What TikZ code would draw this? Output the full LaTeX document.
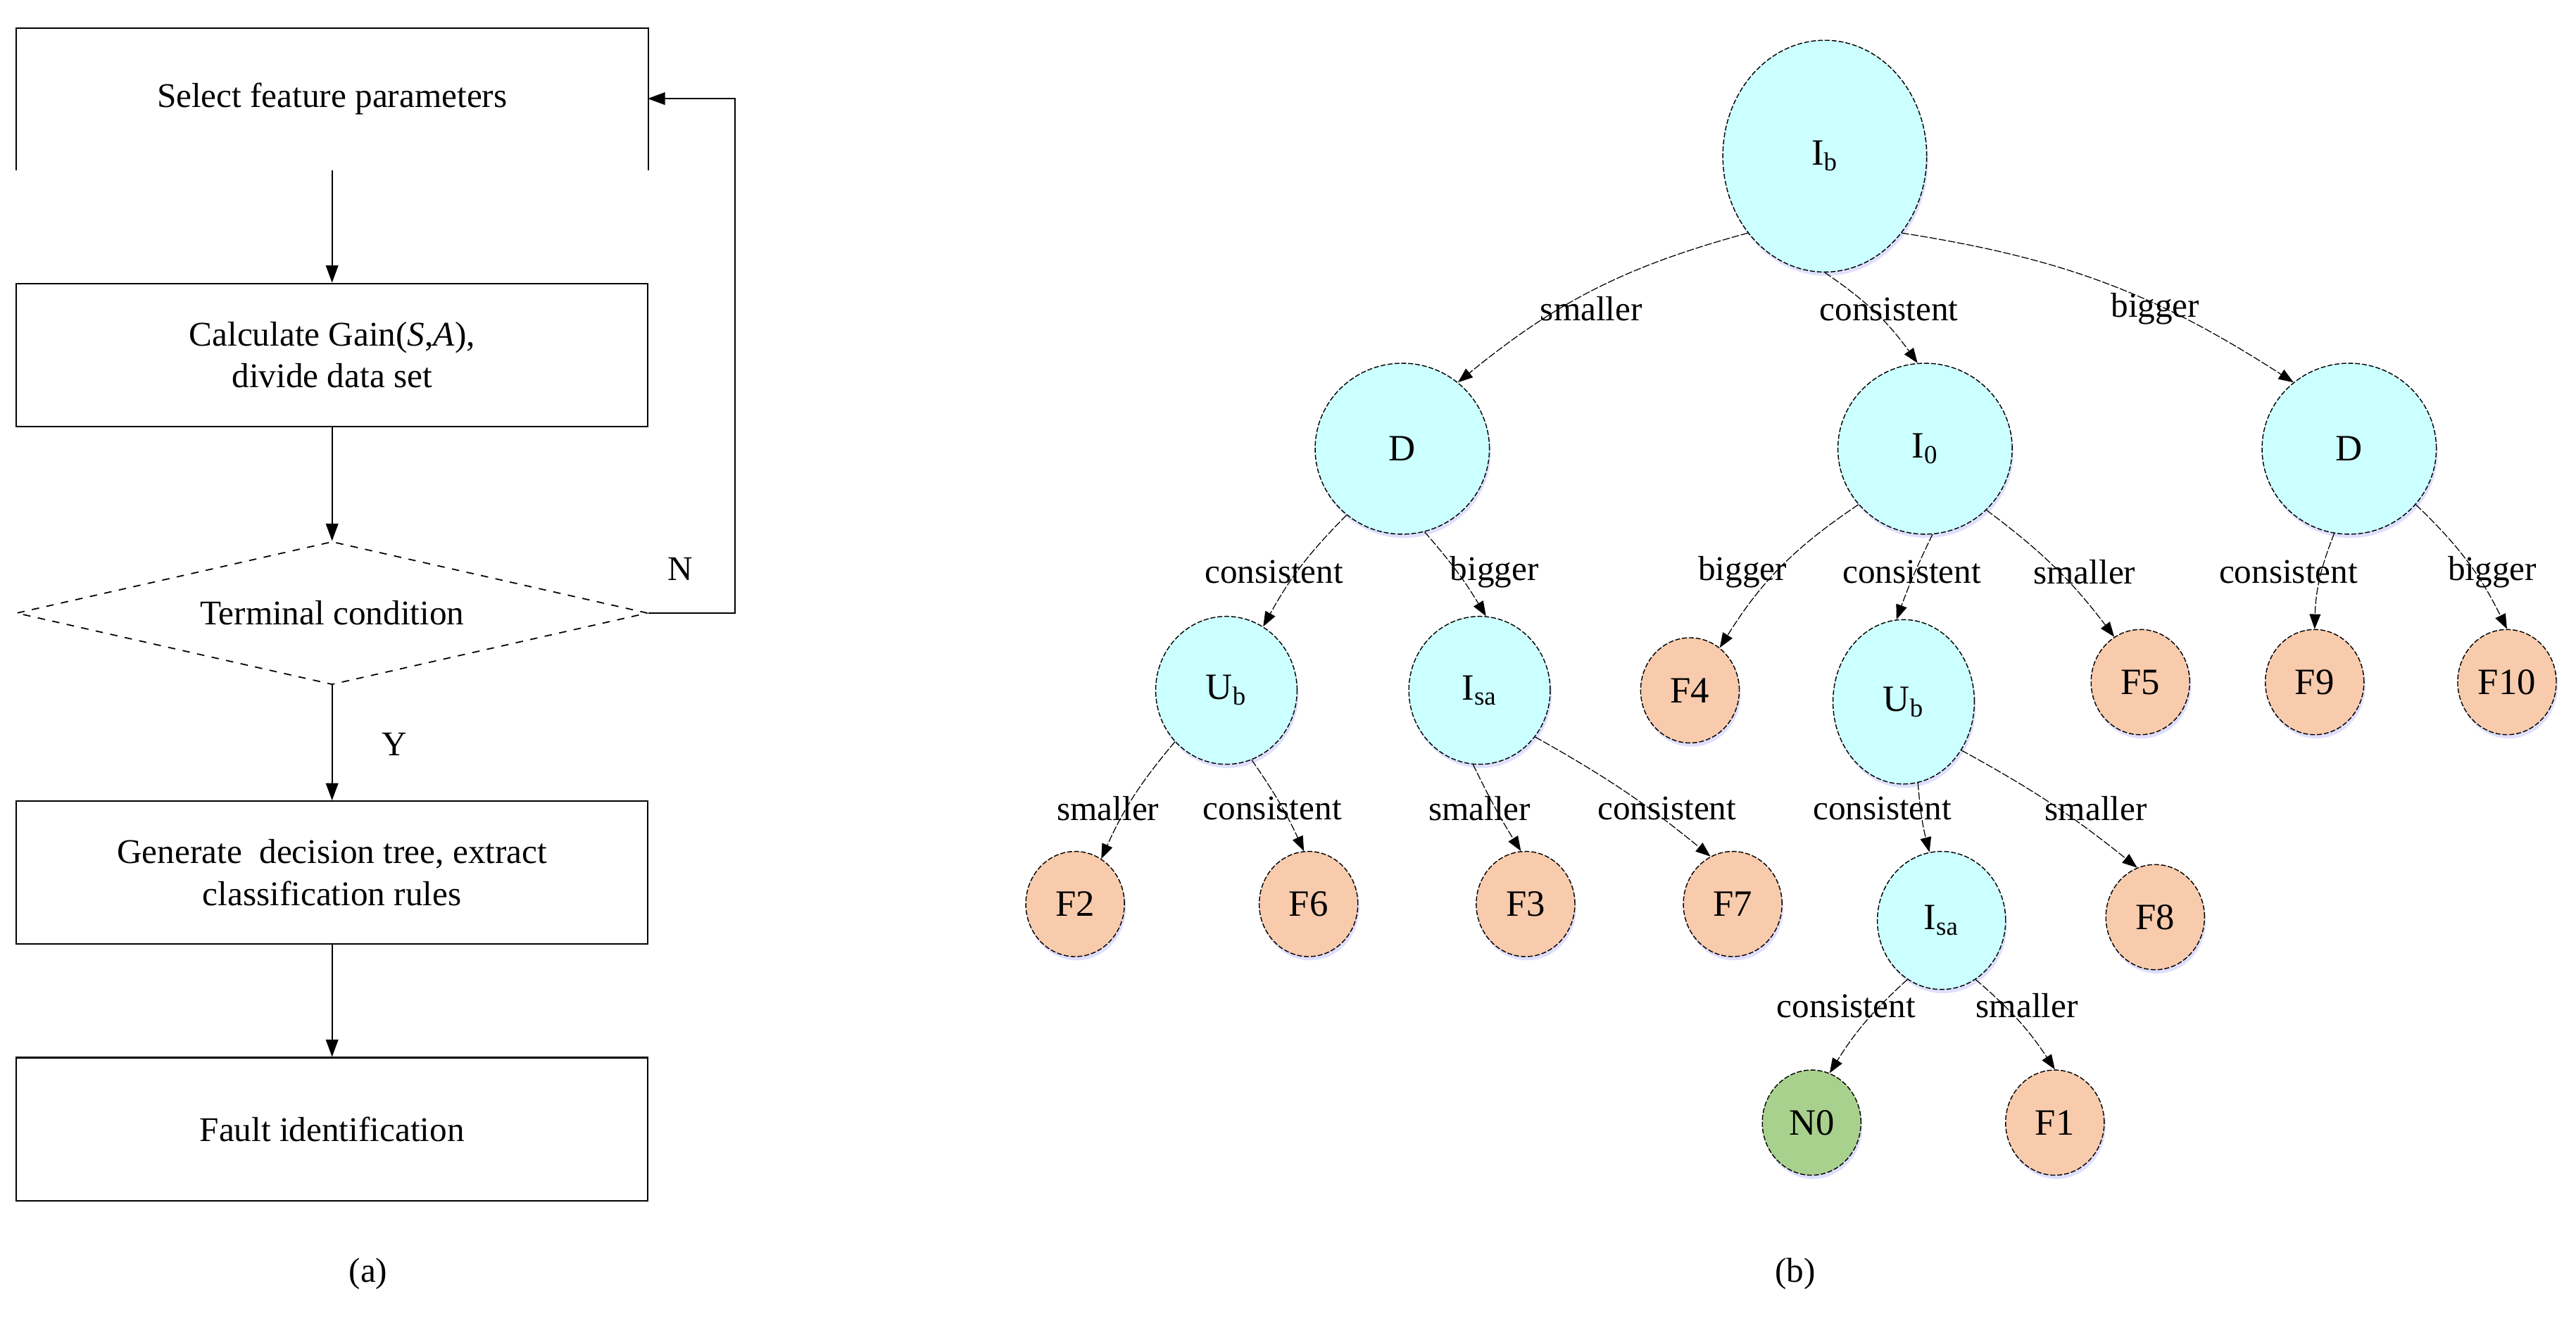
\documentclass[tikz,border=0pt]{standalone}
\usepackage{fontspec}
\setmainfont{Liberation Serif}
\usetikzlibrary{shapes.geometric,arrows.meta,shadows}
\definecolor{cyanf}{HTML}{CCFFFF}
\definecolor{salm}{HTML}{F8CBAD}
\definecolor{grn}{HTML}{A9D18E}
\begin{document}
\begin{tikzpicture}[x=0.02335cm,y=-0.02335cm,
  txt/.style={font=\fontsize{14}{17}\selectfont,align=center},
  box/.style={txt,draw,line width=0.6pt,minimum width=384*0.02335cm,minimum height=87*0.02335cm},
  arr/.style={-{Triangle[length=7pt,width=5pt]},line width=0.6pt},
  tarr/.style={-{Triangle[length=6pt,width=4.5pt]},line width=0.35pt,dash pattern=on 3pt off 0.8pt},
  nd/.style={ellipse,draw,line width=0.4pt,dash pattern=on 2pt off 0.8pt,inner sep=0pt,font=\fontsize{15}{17}\selectfont,
     drop shadow={shadow xshift=0.6pt,shadow yshift=-1.5pt,fill=blue!25,opacity=0.5}},
  big/.style={nd,fill=cyanf,minimum width=124*0.02335cm,minimum height=141*0.02335cm},
  mid/.style={nd,fill=cyanf,minimum width=106*0.02335cm,minimum height=104*0.02335cm},
  sm/.style={nd,fill=cyanf,minimum width=86*0.02335cm,minimum height=90*0.02335cm},
  lf/.style={nd,fill=salm,minimum width=60*0.02335cm,minimum height=64*0.02335cm},
  lab/.style={txt,inner sep=1pt}]
\useasboundingbox (0,0) rectangle (1567,801);
% flowchart
\node[txt,minimum width=384*0.02335cm,minimum height=86*0.02335cm,anchor=north] (b1) at (202,17) {Select feature parameters};
\draw[line width=0.6pt] (b1.south west) -- (b1.north west) -- (b1.north east) -- (b1.south east);
\node[box,anchor=north] (b2) at (202,172) {Calculate Gain(\textit{S},\textit{A}),\\divide data set};
\node[txt,diamond,draw,dashed,line width=0.5pt,aspect=4.4,minimum width=384*0.02335cm,minimum height=87*0.02335cm,inner sep=0pt] (dm) at (202,373) {Terminal condition};
\node[box,anchor=north] (b3) at (202,487) {Generate\ \ decision tree, extract\\classification rules};
\node[box,anchor=north] (b4) at (202,643) {Fault identification};
\coordinate (c1) at (447,373);
\coordinate (c2) at (447,60);
\coordinate (c3) at (394,60);
\draw[arr] (b1.south) -- (b2.north);
\draw[arr] (b2.south) -- (dm.north);
\draw[arr] (dm.south) -- (b3.north);
\draw[arr] (b3.south) -- (b4.north);
\draw[arr] (dm.east) -- (c1) -- (c2) -- (c3);
\node[txt] (N) at (414,346) {N};
\node[txt] (Y) at (240,453) {Y};
\node[txt] (ca) at (224,775) {(a)};
\node[txt] (cb) at (1092,775) {(b)};
% tree
\node[big] (Ib) at (1110,95) {I\textsubscript{b}};
\node[mid] (D1) at (853,273) {D};
\node[mid] (I0) at (1171,273) {I\textsubscript{0}};
\node[mid] (D2) at (1429,273) {D};
\node[sm] (U1) at (746,420) {U\textsubscript{b}};
\node[sm] (S1) at (900,420) {I\textsubscript{sa}};
\node[lf] (F4) at (1028,420) {F4};
\node[sm,minimum height=100*0.02335cm] (U2) at (1158,427) {U\textsubscript{b}};
\node[lf] (F5) at (1302,415) {F5};
\node[lf] (F9) at (1408,415) {F9};
\node[lf] (F10) at (1525,415) {F10};
\node[lf] (F2) at (654,550) {F2};
\node[lf] (F6) at (796,550) {F6};
\node[lf] (F3) at (928,550) {F3};
\node[lf] (F7) at (1054,550) {F7};
\node[sm,minimum width=78*0.02335cm,minimum height=84*0.02335cm] (S2) at (1181,560) {I\textsubscript{sa}};
\node[lf] (F8) at (1311,558) {F8};
\node[lf,fill=grn] (N0) at (1102,683) {N0};
\node[lf] (F1) at (1250,683) {F1};
% edges
\draw[tarr] (Ib.225) to[bend right=12] (D1.50);
\draw[tarr] (Ib.270) to[bend left=10] (I0.95);
\draw[tarr] (Ib.315) to[bend left=12] (D2.130);
\draw[tarr] (D1.230) to[bend right=8] (U1.60);
\draw[tarr] (D1.285) to[bend left=5] (S1.85);
\draw[tarr] (I0.220) to[bend right=12] (F4.55);
\draw[tarr] (I0.275) to[bend right=3] (U2.95);
\draw[tarr] (I0.315) to[bend left=8] (F5.120);
\draw[tarr] (D2.260) to[bend right=10] (F9.90);
\draw[tarr] (D2.320) to[bend left=10] (F10.90);
\draw[tarr] (U1.225) to[bend right=8] (F2.60);
\draw[tarr] (U1.290) to[bend left=5] (F6.95);
\draw[tarr] (S1.265) to[bend right=3] (F3.95);
\draw[tarr] (S1.320) to[bend left=5] (F7.115);
\draw[tarr] (U2.280) to[bend right=5] (S2.100);
\draw[tarr] (U2.320) to[bend left=5] (F8.110);
\draw[tarr] (S2.240) to[bend right=8] (N0.70);
\draw[tarr] (S2.300) to[bend left=8] (F1.90);
% labels
\node[lab] (l1) at (968,188) {smaller};
\node[lab] (l2) at (1149,188) {consistent};
\node[lab] (l3) at (1311,188) {bigger};
\node[lab] (l4) at (775,348) {consistent};
\node[lab] (l5) at (909,348) {bigger};
\node[lab] (l6) at (1060,348) {bigger};
\node[lab] (l7) at (1163,348) {consistent};
\node[lab] (l8) at (1268,348) {smaller};
\node[lab] (l9) at (1392,348) {consistent};
\node[lab] (l10) at (1516,348) {bigger};
\node[lab] (l11) at (674,492) {smaller};
\node[lab] (l12) at (774,492) {consistent};
\node[lab] (l13) at (900,492) {smaller};
\node[lab] (l14) at (1014,492) {consistent};
\node[lab] (l15) at (1145,492) {consistent};
\node[lab] (l16) at (1275,492) {smaller};
\node[lab] (l17) at (1123,612) {consistent};
\node[lab] (l18) at (1233,612) {smaller};
\end{tikzpicture}
\end{document}
